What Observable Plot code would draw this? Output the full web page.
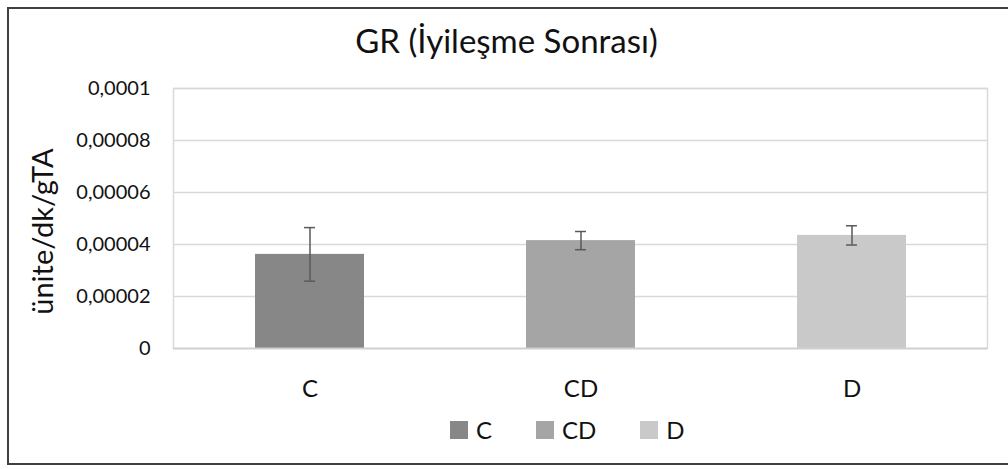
<!DOCTYPE html>
<html>
<head>
<meta charset="utf-8">
<script src="https://cdn.jsdelivr.net/npm/d3@7"></script>
<script src="https://cdn.jsdelivr.net/npm/@observablehq/plot@0.6"></script>
<style>
  html, body { margin: 0; padding: 0; background: #fff; }
  #wrap { position: relative; width: 1008px; height: 469px; overflow: hidden; font-family: Lato, "Open Sans", sans-serif; }
  #border { position: absolute; left: 7px; top: 7px; width: 1020px; height: 458px; border: 2px solid #404040; box-sizing: border-box; }
  #title { position: absolute; left: 0; width: 1013px; top: 24px; line-height: 33px; text-align: center; font-size: 33px; color: #111; white-space: nowrap; }
  #legend { position: absolute; left: 450px; top: 418px; display: flex; align-items: center; gap: 44px; font-size: 24px; line-height: 24px; color: #111; }
  #legend span.item { display: inline-flex; align-items: center; gap: 8px; }
  #legend span.sw { display: inline-block; width: 18px; height: 18px; }
  #chart { position: absolute; left: 0; top: 0; }
</style>
</head>
<body>
<div id="wrap">
  <div id="border"></div>
  <div id="title">GR (İyileşme Sonrası)</div>
  <div id="chart"></div>
  <div id="legend"></div>
</div>
<script>
const categories = ["C", "CD", "D"];
const values = [0.0000362, 0.0000415, 0.0000435];
const errors = [0.0000103, 0.0000035, 0.0000037];
const colors = ["#878787", "#a5a5a5", "#c9c9c9"];
const yTicks = [0, 0.00002, 0.00004, 0.00006, 0.00008, 0.0001];
const yLabel = "ünite/dk/gTA";

const data = categories.map((c, i) => ({cat: c, v: values[i], lo: values[i] - errors[i], hi: values[i] + errors[i]}));
const fmt = d => d === 0 ? "0" : d.toFixed(5).replace(/0+$/, "").replace(".", ",");

const bw = 814 / 3 * (1 - 0.598);
const capInset = (bw - 11) / 2;

const plot = Plot.plot({
  width: 1008,
  height: 469,
  marginLeft: 173,
  marginRight: 21,
  marginTop: 88,
  marginBottom: 121,
  style: {fontFamily: "Lato, 'Open Sans', sans-serif", background: "transparent"},
  x: {domain: categories, paddingInner: 0.598, paddingOuter: 0.299, label: null},
  y: {domain: [0, 0.0001], label: null},
  color: {domain: categories, range: colors},
  marks: [
    Plot.gridY(yTicks, {stroke: "#d9d9d9", strokeOpacity: 1, strokeWidth: 1.5}),
    Plot.barY(data, {x: "cat", y: "v", fill: "cat"}),
    Plot.ruleX(data, {x: "cat", y1: "lo", y2: "hi", stroke: "#595959", strokeWidth: 1.5}),
    Plot.tickY(data, {x: "cat", y: "lo", stroke: "#595959", strokeWidth: 1.5, insetLeft: capInset, insetRight: capInset}),
    Plot.tickY(data, {x: "cat", y: "hi", stroke: "#595959", strokeWidth: 1.5, insetLeft: capInset, insetRight: capInset}),
    Plot.frame({stroke: "#d9d9d9", strokeWidth: 1.5}),
    Plot.ruleY([0], {stroke: "#d0d0d0", strokeWidth: 1.5}),
    Plot.axisY({ticks: yTicks, tickFormat: fmt, tickSize: 0, tickPadding: 23, fontSize: 20, fill: "#111", label: null}),
    Plot.axisX({tickSize: 0, tickPadding: 31, fontSize: 24, fill: "#111", label: null}),
    Plot.text([yLabel], {frameAnchor: "left", textAnchor: "middle", dx: -130, dy: 13, rotate: -90, fontSize: 29, fill: "#111"})
  ]
});
document.getElementById("chart").appendChild(plot);

const legend = document.getElementById("legend");
categories.forEach((c, i) => {
  const item = document.createElement("span");
  item.className = "item";
  const sw = document.createElement("span");
  sw.className = "sw";
  sw.style.background = colors[i];
  item.appendChild(sw);
  item.appendChild(document.createTextNode(c));
  legend.appendChild(item);
});
</script>
</body>
</html>
